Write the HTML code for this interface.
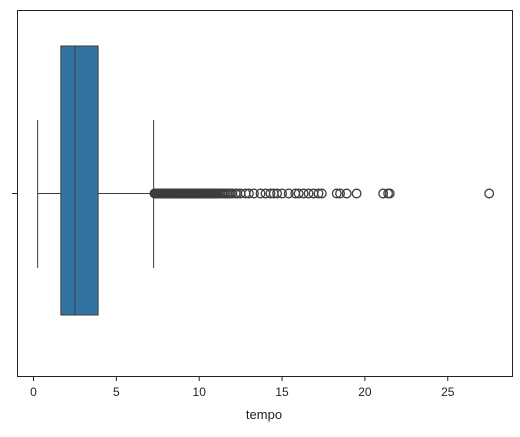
<!DOCTYPE html>
<html><head><meta charset="utf-8"><style>
body{margin:0;background:#fff;width:520px;height:432px;overflow:hidden}
text{font-family:"Liberation Sans",sans-serif;fill:#222}
</style></head><body>
<svg width="520" height="432">
<g id="plot"></g>
<rect x="17.5" y="10.5" width="495" height="366" fill="none" stroke="#222" stroke-width="1"/>
<g id="axis"></g>
<line x1="12" y1="193.5" x2="17" y2="193.5" stroke="#222"/>
<text x="264" y="419" text-anchor="middle" font-size="13">tempo</text>
</svg>
<script>
const stats=[0.25,1.65,2.5,3.9,7.25]; // whisker-low, q1, median, q3, whisker-high
const outliers=[7.3,7.33,7.36,7.4,7.43,7.46,7.5,7.55,7.6,7.65,7.7,7.75,7.8,7.85,7.9,7.95,8.0,8.05,8.1,8.15,8.2,8.25,8.3,8.35,8.4,8.45,8.5,8.55,8.6,8.65,8.7,8.75,8.8,8.85,8.9,8.95,9.0,9.05,9.1,9.15,9.2,9.25,9.3,9.35,9.4,9.45,9.5,9.55,9.6,9.65,9.7,9.75,9.8,9.85,9.9,9.95,10.0,10.05,10.1,10.15,10.2,10.25,10.3,10.35,10.4,10.45,10.5,10.55,10.6,10.65,10.7,10.75,10.8,10.85,10.9,10.95,11.0,11.05,11.1,11.2,11.3,11.4,11.5,11.6,11.7,11.8,11.9,12.0,12.2,12.3,12.5,12.8,13.0,13.3,13.7,14.0,14.3,14.5,14.7,15.0,15.4,15.8,16.0,16.3,16.6,16.9,17.2,17.4,18.3,18.5,18.9,19.5,21.1,21.4,21.5,27.5];
const ticks=[0,5,10,15,20,25];
const X=v=>33.5+v*16.57;
const ns="http://www.w3.org/2000/svg";
const plot=document.getElementById('plot'),axis=document.getElementById('axis');
function mk(p,tag,a){const e=document.createElementNS(ns,tag);for(const k in a)e.setAttribute(k,a[k]);p.appendChild(e);return e;}
const cy=193.5,c="#3d3d3d";
let e;
e=mk(plot,'line',{x1:X(stats[0]),x2:X(stats[1]),y1:cy,y2:cy,stroke:c});


e=mk(plot,'line',{x1:X(stats[3]),x2:X(stats[4]),y1:cy,y2:cy,stroke:c});


e=mk(plot,'line',{x1:X(stats[0]),x2:X(stats[0]),y1:120,y2:268,stroke:c});


e=mk(plot,'line',{x1:X(stats[4]),x2:X(stats[4]),y1:120,y2:268,stroke:c});


e=mk(plot,'rect',{x:X(stats[1]),y:46,width:X(stats[3])-X(stats[1]),height:269,fill:'#3274a1',stroke:c});


e=mk(plot,'line',{x1:X(stats[2]),x2:X(stats[2]),y1:46,y2:315,stroke:c});


outliers.forEach(v=>{const o=mk(plot,'circle',{cx:X(v),cy:cy,r:4.3,fill:'none',stroke:c,'stroke-width':1.3});

});
ticks.forEach(t=>{const l=mk(axis,'line',{x1:X(t),x2:X(t),y1:377,y2:381,stroke:'#222'});


const tx=mk(axis,'text',{x:X(t),y:396,'text-anchor':'middle','font-size':12});tx.textContent=t;

});
</script>
</body></html>
